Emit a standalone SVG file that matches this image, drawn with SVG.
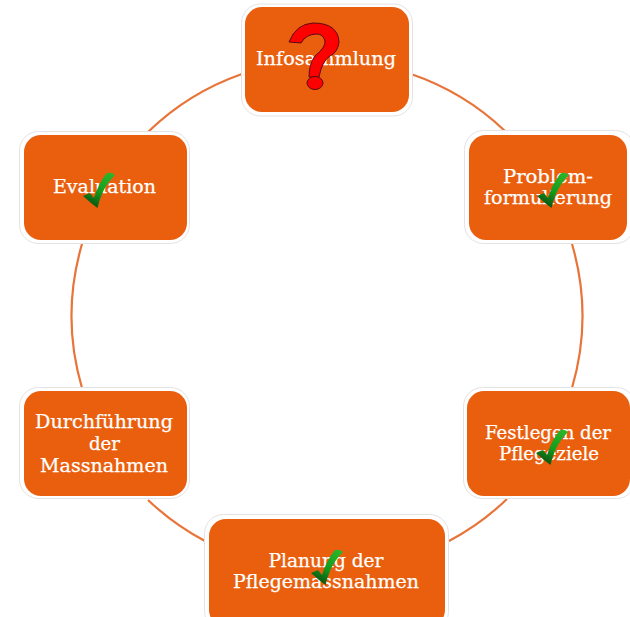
<svg xmlns="http://www.w3.org/2000/svg" xmlns:xlink="http://www.w3.org/1999/xlink" width="630" height="617" viewBox="0 0 630 617">
<style>
.outer{fill:#fff;stroke:#e3e3e3;stroke-width:1}
.box{fill:#ea5f0e}
.lbl{font-family:"DejaVu Serif","Liberation Serif",serif;font-size:18px;fill:#fff;stroke:#fff;stroke-width:.25;text-anchor:middle}
.arc{fill:none;stroke:#e8743a;stroke-width:2.200}
</style>
<defs>
<linearGradient id="g" x1="0.8" y1="0" x2="0.35" y2="1">
<stop offset="0" stop-color="#2cb52a"/><stop offset="0.55" stop-color="#139c1c"/><stop offset="1" stop-color="#0b4f12"/>
</linearGradient>
<symbol id="check" width="32" height="36" viewBox="0 0 32 36" overflow="visible">
<path d="M0 24 L7 21 L11 26 Q15 13 23 2 Q27 -1 32 3 Q23 12 19 22 Q16 29 14.500 36 L8 31 Z" fill="url(#g)"/>
</symbol>
</defs>
<g id="connectors">
<path class="arc" d="M411 74 A256 256 0 0 1 505 131"/>
<path class="arc" d="M572 244 A256 256 0 0 1 572 388"/>
<path class="arc" d="M507 499 A256 256 0 0 1 449 541"/>
<path class="arc" d="M205 541 A256 256 0 0 1 148 500"/>
<path class="arc" d="M82 388 A256 256 0 0 1 82 244"/>
<path class="arc" d="M148 132 A256 256 0 0 1 242 74"/>
</g>
<g id="node-infosammlung">
<rect class="outer" x="241.500" y="4" width="171" height="112" rx="19"/>
<rect class="box" x="245" y="7" width="164" height="105" rx="17"/>
<text class="lbl" x="326" y="65" textLength="140" lengthAdjust="spacingAndGlyphs">Infosammlung</text>
<path d="M289 42 Q296 24 313 23 Q338 23 339 42 Q338 52 330 56 Q322 61 319 77 L309 77 Q309 64 315 56 Q326 47 325 41 Q323 34 317 34 Q306 34 301 43 Z" fill="#f00" stroke="#5a0a14" stroke-width="1"/>
<ellipse cx="315" cy="83" rx="8" ry="6.500" fill="#f00" stroke="#5a0a14" stroke-width="1"/>
</g>
<g id="node-problemformulierung">
<rect class="outer" x="464.500" y="130.500" width="170" height="113" rx="19"/>
<rect class="box" x="469" y="135" width="158" height="105" rx="17"/>
<text class="lbl" x="548" y="183" textLength="90" lengthAdjust="spacingAndGlyphs">Problem-</text>
<text class="lbl" x="548" y="204" textLength="128" lengthAdjust="spacingAndGlyphs">formulierung</text>
<use xlink:href="#check" href="#check" x="537" y="172"/>
</g>
<g id="node-festlegen">
<rect class="outer" x="463.500" y="387.500" width="172" height="111" rx="19"/>
<rect class="box" x="467" y="391" width="163" height="105" rx="17"/>
<text class="lbl" x="548" y="439" textLength="126" lengthAdjust="spacingAndGlyphs">Festlegen der</text>
<text class="lbl" x="549" y="460" textLength="100" lengthAdjust="spacingAndGlyphs">Pflegeziele</text>
<use xlink:href="#check" href="#check" x="536" y="429"/>
</g>
<g id="node-planung">
<rect class="outer" x="204.500" y="514.500" width="244" height="116" rx="19"/>
<rect class="box" x="209" y="519" width="236" height="108" rx="17"/>
<text class="lbl" x="326" y="567" textLength="115" lengthAdjust="spacingAndGlyphs">Planung der</text>
<text class="lbl" x="326" y="588" textLength="186" lengthAdjust="spacingAndGlyphs">Pflegemassnahmen</text>
<use xlink:href="#check" href="#check" x="311" y="549"/>
</g>
<g id="node-durchfuehrung">
<rect class="outer" x="19.500" y="387.500" width="170" height="111" rx="19"/>
<rect class="box" x="24" y="391" width="163" height="105" rx="17"/>
<text class="lbl" x="104" y="428" textLength="138" lengthAdjust="spacingAndGlyphs">Durchführung</text>
<text class="lbl" x="104.500" y="450" textLength="31" lengthAdjust="spacingAndGlyphs">der</text>
<text class="lbl" x="104" y="472" textLength="128" lengthAdjust="spacingAndGlyphs">Massnahmen</text>
</g>
<g id="node-evaluation">
<rect class="outer" x="19.500" y="131.500" width="170" height="112" rx="19"/>
<rect class="box" x="24" y="135" width="163" height="105" rx="17"/>
<text class="lbl" x="104.500" y="193" textLength="103" lengthAdjust="spacingAndGlyphs">Evaluation</text>
<use xlink:href="#check" href="#check" x="83" y="172"/>
</g>
</svg>
